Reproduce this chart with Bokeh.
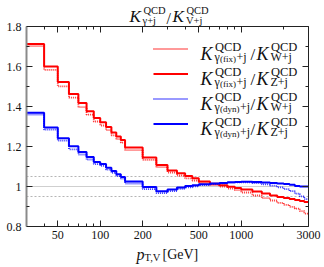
import math
from bokeh.plotting import figure
from bokeh.models import (FixedTicker, LogAxis, LinearAxis, Label, Legend,
                          LegendItem, CustomJSTickFormatter, Range1d)
from bokeh.embed import file_html
from bokeh.resources import INLINE

# ---------------- data (bin edges in GeV, ratio values per bin) ----------------
edges = [30, 40, 50, 60, 70, 80, 90, 100, 110, 120, 130, 140, 150, 200, 250, 300,
         350, 400, 450, 500, 600, 700, 800, 900, 1000, 1200, 1400, 1600, 1800,
         2000, 2200, 2400, 2600, 2800, 3000]

fix_over_W = [1.702, 1.583, 1.501, 1.444, 1.397, 1.359, 1.325, 1.305, 1.282, 1.256,
              1.237, 1.219, 1.182, 1.133, 1.097, 1.070, 1.055, 1.041, 1.030, 1.017,
              1.007, 0.999, 0.990, 0.982, 0.970, 0.955, 0.942, 0.930, 0.918, 0.908,
              0.898, 0.889, 0.877, 0.864]
fix_over_Z = [1.712, 1.600, 1.522, 1.463, 1.417, 1.376, 1.342, 1.321, 1.297, 1.270,
              1.250, 1.232, 1.195, 1.145, 1.108, 1.080, 1.066, 1.052, 1.041, 1.025,
              1.014, 1.006, 0.999, 0.992, 0.985, 0.975, 0.965, 0.955, 0.948, 0.942,
              0.937, 0.932, 0.928, 0.923]
dyn_over_W = [1.360, 1.284, 1.229, 1.186, 1.160, 1.135, 1.112, 1.103, 1.084, 1.068,
              1.052, 1.040, 1.015, 0.987, 0.967, 0.977, 0.988, 0.996, 1.001, 1.007,
              1.012, 1.016, 1.019, 1.021, 1.021, 1.017, 1.011, 1.004, 0.996, 0.987,
              0.977, 0.964, 0.951, 0.937]
dyn_over_Z = [1.369, 1.295, 1.241, 1.201, 1.173, 1.147, 1.123, 1.113, 1.094, 1.077,
              1.061, 1.048, 1.025, 0.997, 0.976, 0.985, 0.995, 1.002, 1.006, 1.011,
              1.015, 1.018, 1.021, 1.023, 1.024, 1.022, 1.020, 1.018, 1.015, 1.012,
              1.009, 1.003, 1.000, 1.000]

x_ticks = [50, 100, 200, 500, 1000, 3000]
x_minor = [40, 60, 70, 80, 90, 300, 400, 600, 700, 800, 900, 2000]
y_ticks = [0.8, 1.0, 1.2, 1.4, 1.6, 1.8]
y_minor = [0.9, 1.1, 1.3, 1.5, 1.7]
ref_lines = [1.0]
ref_band = [0.95, 1.05]
X0, X1 = 30, 3000
Y0, Y1 = 0.8, 1.8

FONT = "Liberation Serif"
TXT = "#111111"
RED = "#ff0000"
BLUE = "#0000ff"

# ---------------- page geometry (pixels) ----------------
W, H = 324, 267
BOX_L, BOX_R = 26, 308       # data box left/right
BOX_T, BOX_B = 26, 226       # data box top/bottom
PX_PER_Y = (BOX_B - BOX_T) / (Y1 - Y0)
PX_PER_DEC = (BOX_R - BOX_L) / math.log10(X1 / X0)

# the frame covers the page right of the y labels; the data box sits inside it
y_lo = Y0 - (H - BOX_B) / PX_PER_Y
y_hi = Y1 + BOX_T / PX_PER_Y
x_hi = X1 * 10 ** ((W - BOX_R) / PX_PER_DEC)

p = figure(width=W, height=H, x_axis_type="log",
           x_range=Range1d(X0, x_hi), y_range=Range1d(y_lo, y_hi),
           output_backend="svg", toolbar_location=None,
           min_border_left=BOX_L, min_border_right=0,
           min_border_top=0, min_border_bottom=0)
p.outline_line_color = None
p.xgrid.visible = False
p.ygrid.visible = False
p.background_fill_color = "white"
p.border_fill_color = "white"

xt = FixedTicker(ticks=x_ticks, minor_ticks=x_minor)
yt = FixedTicker(ticks=y_ticks, minor_ticks=y_minor)
xfmt = CustomJSTickFormatter(code="return String(Math.round(tick));")
yfmt = CustomJSTickFormatter(code="return String(Math.round(tick*10)/10);")


def style_axis(ax, show_labels, line_color="#222222", line_width=1):
    ax.major_tick_in = 6
    ax.major_tick_out = 0
    ax.minor_tick_in = 3
    ax.minor_tick_out = 0
    ax.major_tick_line_color = "#222222"
    ax.minor_tick_line_color = "#222222"
    ax.axis_line_color = line_color
    ax.axis_line_width = line_width
    ax.major_label_text_font = FONT
    ax.major_label_text_color = TXT
    if show_labels:
        ax.major_label_text_font_size = "12px"
    else:
        ax.major_label_text_font_size = "0px"
        ax.major_label_text_alpha = 0
        ax.major_label_standoff = 0


xa = p.xaxis[0]
xa.ticker = xt
xa.formatter = xfmt
style_axis(xa, True)
xa.major_label_standoff = 4
xa.fixed_location = Y0
xa.bounds = (X0, X1)

ya = p.yaxis[0]
ya.ticker = yt
ya.formatter = yfmt
style_axis(ya, True, line_color="#8a8a8a", line_width=2)
ya.major_label_standoff = 5
ya.bounds = (Y0, Y1)

top = LogAxis(ticker=xt, formatter=xfmt, fixed_location=Y1, bounds=(X0, X1))
style_axis(top, False)
p.add_layout(top, "above")
right = LinearAxis(ticker=yt, formatter=yfmt, fixed_location=X1, bounds=(Y0, Y1))
style_axis(right, False)
p.add_layout(right, "right")

# reference lines at 1 (solid) and 1 +- 5% (dotted), across the data box
p.segment(x0=[X0] * len(ref_lines), x1=[X1] * len(ref_lines), y0=ref_lines, y1=ref_lines,
          line_color="#cfcfcf", line_width=1)
p.segment(x0=[X0] * len(ref_band), x1=[X1] * len(ref_band), y0=ref_band, y1=ref_band,
          line_color="#b5b5b5", line_width=1, line_dash="2 2")


def closed(vals):
    return list(vals) + [vals[-1]]


r1 = p.step(x=edges, y=closed(fix_over_W), mode="after", line_color=RED,
            line_width=1.8, line_dash="1 1", line_alpha=0.8)
r2 = p.step(x=edges, y=closed(fix_over_Z), mode="after", line_color=RED, line_width=2)
r3 = p.step(x=edges, y=closed(dyn_over_W), mode="after", line_color=BLUE,
            line_width=1.8, line_dash="1 1", line_alpha=0.8)
r4 = p.step(x=edges, y=closed(dyn_over_Z), mode="after", line_color=BLUE, line_width=2)

# legend keys (labels are drawn separately with sub/superscripts)
leg_h = 4 * 21 + 3 * 4
legend = Legend(items=[LegendItem(label=" ", renderers=[r]) for r in (r1, r2, r3, r4)],
                location=(127, H - 37.5 - leg_h), glyph_width=35, glyph_height=21,
                label_height=21, label_width=0, spacing=4, padding=0, margin=0,
                label_text_font_size="1px", border_line_alpha=0,
                background_fill_alpha=0)
p.add_layout(legend)


def fx(px):
    return 10 ** (math.log10(X0) + (px - BOX_L) / PX_PER_DEC)


def fy(py):
    return Y0 + (BOX_B - py) / PX_PER_Y


def put(text, px, py, size, italic=False):
    p.add_layout(Label(x=fx(px), y=fy(py), text=text, text_font=FONT,
                       text_font_size=f"{size}px",
                       text_font_style="italic" if italic else "normal",
                       text_color=TXT, text_baseline="alphabetic",
                       text_align="left"))


# legend labels
rows = [("(fix)", "W+j", 48), ("(fix)", "Z+j", 73), ("(dyn)", "W+j", 98), ("(dyn)", "Z+j", 123)]
for tag, den, yc in rows:
    put("K", 200, yc + 5, 18, True)
    put("QCD", 214.5, yc - 2, 12.5)
    put("γ", 214, yc + 8.5, 12)
    put(tag, 219.5, yc + 10, 9)
    put("+j", 236 if tag == "(fix)" else 239.5, yc + 8.5, 12)
    put("/", 250, yc + 6, 17)
    put("K", 256, yc + 5, 18, True)
    put("QCD", 270.5, yc - 2, 12.5)
    put(den, 270, yc + 8.5, 12)

# title  K^QCD_{γ+j} / K^QCD_{V+j}
put("K", 129, 16, 17, True)
put("QCD", 143, 9.5, 10.5)
put("γ+j", 142, 19.5, 10.5)
put("/", 166, 17.5, 16)
put("K", 172, 16, 17, True)
put("QCD", 186, 9.5, 10.5)
put("V+j", 185.5, 19.5, 10.5)

# x-axis label  p_{T,V} [GeV]
put("p", 136, 254, 16, True)
put("T,V", 144, 257, 10.5)
put("[GeV]", 162, 254, 14)

open("out.html", "w").write(file_html(p, INLINE))
